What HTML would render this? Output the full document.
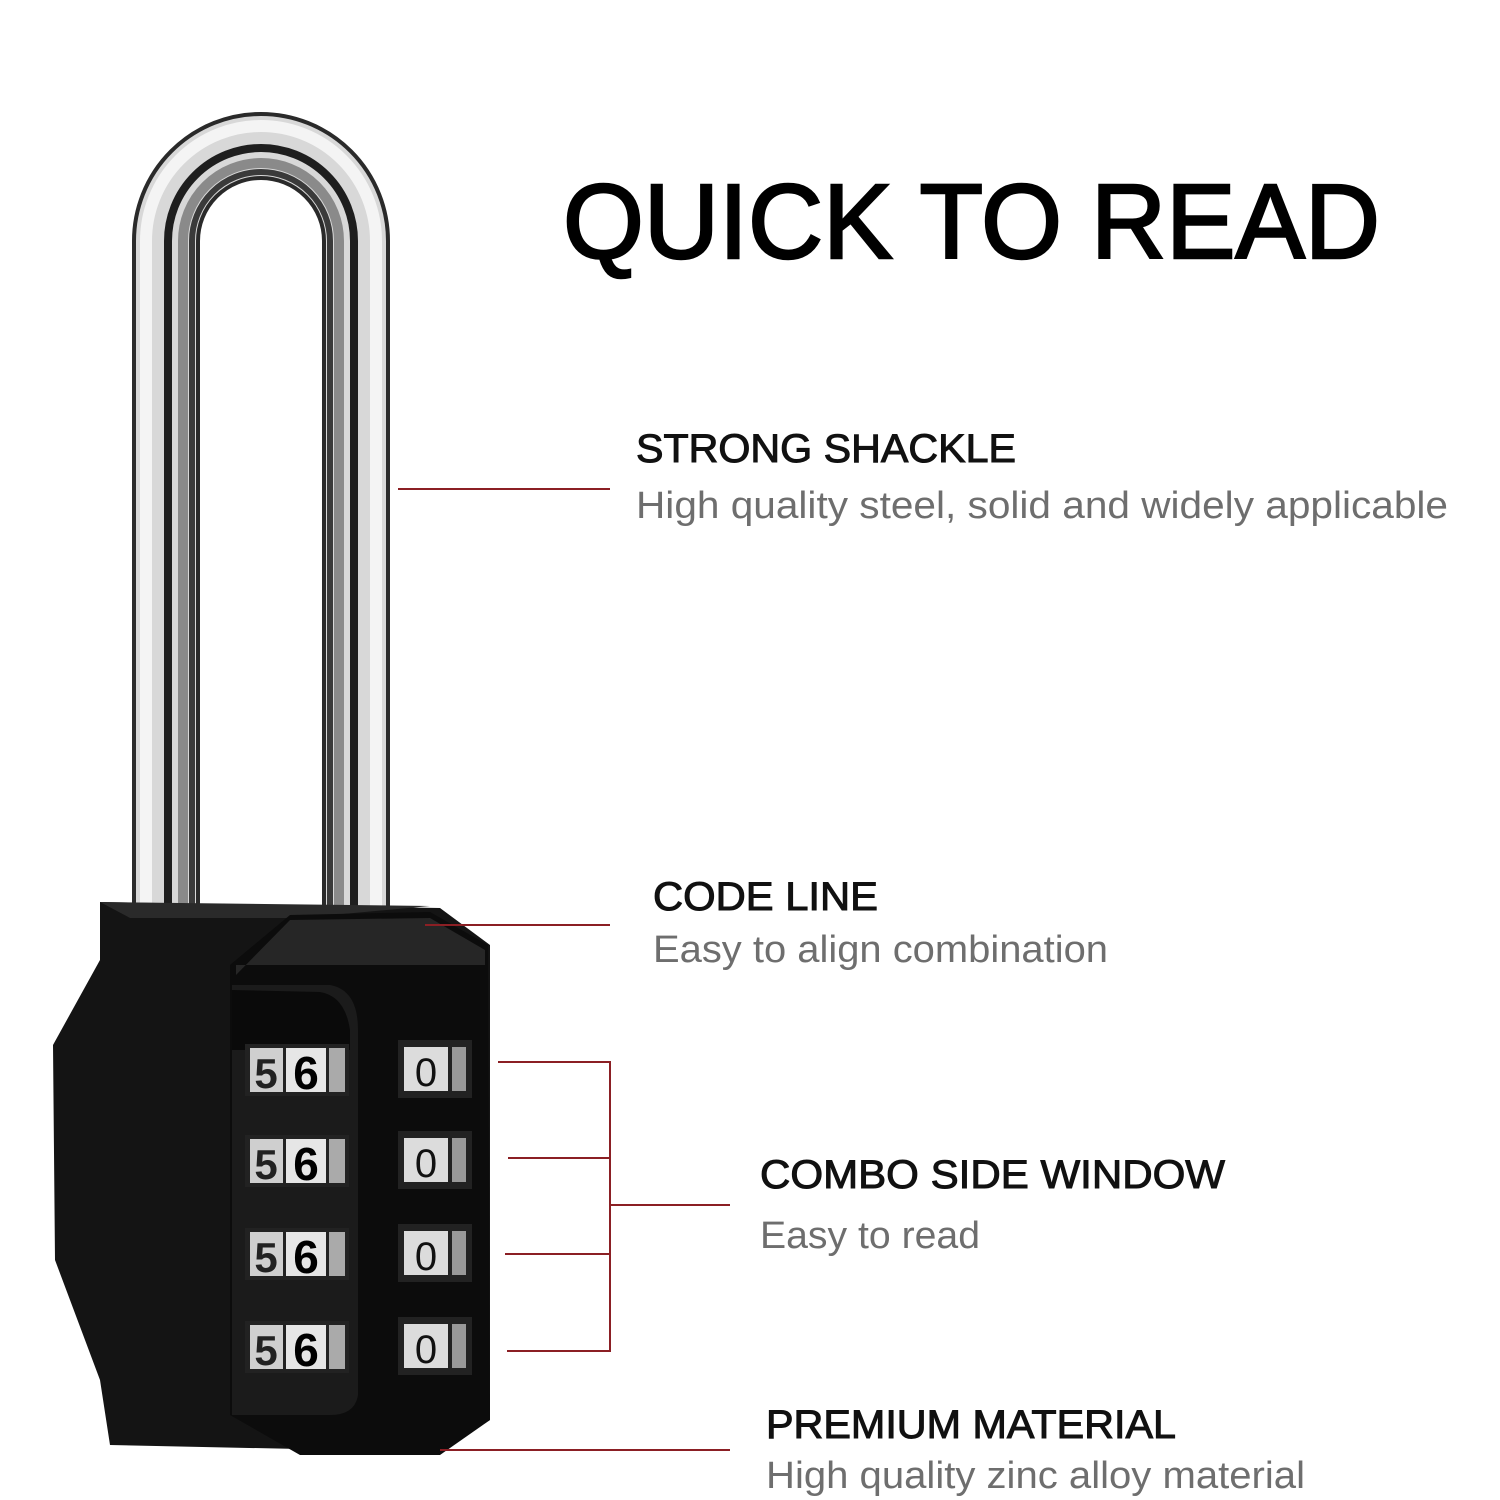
<!DOCTYPE html>
<html><head><style>html,body{margin:0;padding:0;background:#fff;}svg{display:block;}</style></head>
<body>
<svg width="1500" height="1500" viewBox="0 0 1500 1500" xmlns="http://www.w3.org/2000/svg">
<rect width="1500" height="1500" fill="#fff"/>
<!-- shackle -->
<g fill="none" stroke-linecap="butt">
<path d="M166 920 V241 A95 95 0 0 1 356 241 V920" stroke="#2a2a2a" stroke-width="68"/>
<path d="M166 920 V241 A95 95 0 0 1 356 241 V920" stroke="#d8d8d8" stroke-width="60"/>
<path d="M146 920 V241 A115 115 0 0 1 376 241 V920" stroke="#f4f4f4" stroke-width="12"/>
<path d="M168 920 V241 A93 93 0 0 1 354 241 V920" stroke="#1e1e1e" stroke-width="8"/>
<path d="M183 920 V241 A78 78 0 0 1 339 241 V920" stroke="#8a8a8a" stroke-width="10"/>
<path d="M192 920 V241 A69 69 0 0 1 330 241 V920" stroke="#3a3a3a" stroke-width="6"/>
</g>
<!-- body back plate -->
<polygon points="100,902 440,908 490,945 490,1420 440,1452 110,1445 100,1380 55,1260 53,1045 100,960" fill="#141414"/>
<polygon points="100,902 430,906 300,918 130,918" fill="#2a2a2a"/>
<!-- front column -->
<path d="M230 965 L290 915 L430 912 L488 945 L490 1420 L440 1455 L300 1455 L230 1415 Z" fill="#0c0c0c"/>
<path d="M236 975 L290 920 L430 918 L485 950 L485 965 L236 965 Z" fill="#262626"/>
<path d="M232 985 L330 985 Q358 990 358 1030 L358 1395 Q355 1415 330 1415 L232 1415 Z" fill="#1b1b1b"/>
<path d="M232 990 L320 992 Q345 996 350 1030 L350 1050 L232 1050 Z" fill="#0a0a0a"/>
<!-- wheels -->
<g font-family="Liberation Sans, sans-serif" font-weight="bold" text-anchor="middle">
<g id="w">
<rect x="245" y="1044" width="104" height="52" fill="#222"/>
<rect x="250" y="1048" width="33" height="44" fill="#cfcfcf"/>
<rect x="286" y="1048" width="40" height="44" fill="#e6e6e6"/>
<rect x="329" y="1048" width="16" height="44" fill="#aaa"/>
<text x="266" y="1088" font-size="42" fill="#222">5</text>
<text x="306" y="1089" font-size="46" fill="#000">6</text>
<rect x="398" y="1040" width="74" height="58" fill="#222"/>
<rect x="404" y="1047" width="44" height="44" fill="#dcdcdc"/>
<rect x="452" y="1047" width="14" height="44" fill="#999"/>
<text x="426" y="1086" font-size="40" font-weight="normal" fill="#111">0</text>
</g>
<use href="#w" y="91"/>
<use href="#w" y="184"/>
<use href="#w" y="277"/>
</g>
<!-- connectors -->
<g stroke="#8b1f24" stroke-width="2" fill="none">
<path d="M398 489 H610"/>
<path d="M425 925 H610"/>
<path d="M498 1062 H610 V1351 H507 M508 1158 H610 M505 1254 H610 M610 1205 H730"/>
<path d="M440 1450 H730"/>
</g>
<!-- text -->
<g font-family="Liberation Sans, sans-serif">
<text x="563" y="258" font-size="106" fill="#000" stroke="#000" stroke-width="2.5" textLength="817" lengthAdjust="spacingAndGlyphs">QUICK TO READ</text>
<g stroke="#111" stroke-width="1">
<text x="636" y="462" font-size="40" fill="#111" textLength="380" lengthAdjust="spacingAndGlyphs">STRONG SHACKLE</text>
<text x="653" y="910" font-size="40" fill="#111" textLength="225" lengthAdjust="spacingAndGlyphs">CODE LINE</text>
<text x="760" y="1188" font-size="40" fill="#111" textLength="465" lengthAdjust="spacingAndGlyphs">COMBO SIDE WINDOW</text>
<text x="766" y="1438" font-size="40" fill="#111" textLength="410" lengthAdjust="spacingAndGlyphs">PREMIUM MATERIAL</text>
</g>
<text x="636" y="518" font-size="38" fill="#6e6e6e" textLength="812" lengthAdjust="spacingAndGlyphs">High quality steel, solid and widely applicable</text>
<text x="653" y="962" font-size="38" fill="#6e6e6e" textLength="455" lengthAdjust="spacingAndGlyphs">Easy to align combination</text>
<text x="760" y="1248" font-size="38" fill="#6e6e6e" textLength="220" lengthAdjust="spacingAndGlyphs">Easy to read</text>
<text x="766" y="1488" font-size="38" fill="#6e6e6e" textLength="539" lengthAdjust="spacingAndGlyphs">High quality zinc alloy material</text>
</g>
</svg>
</body></html>
